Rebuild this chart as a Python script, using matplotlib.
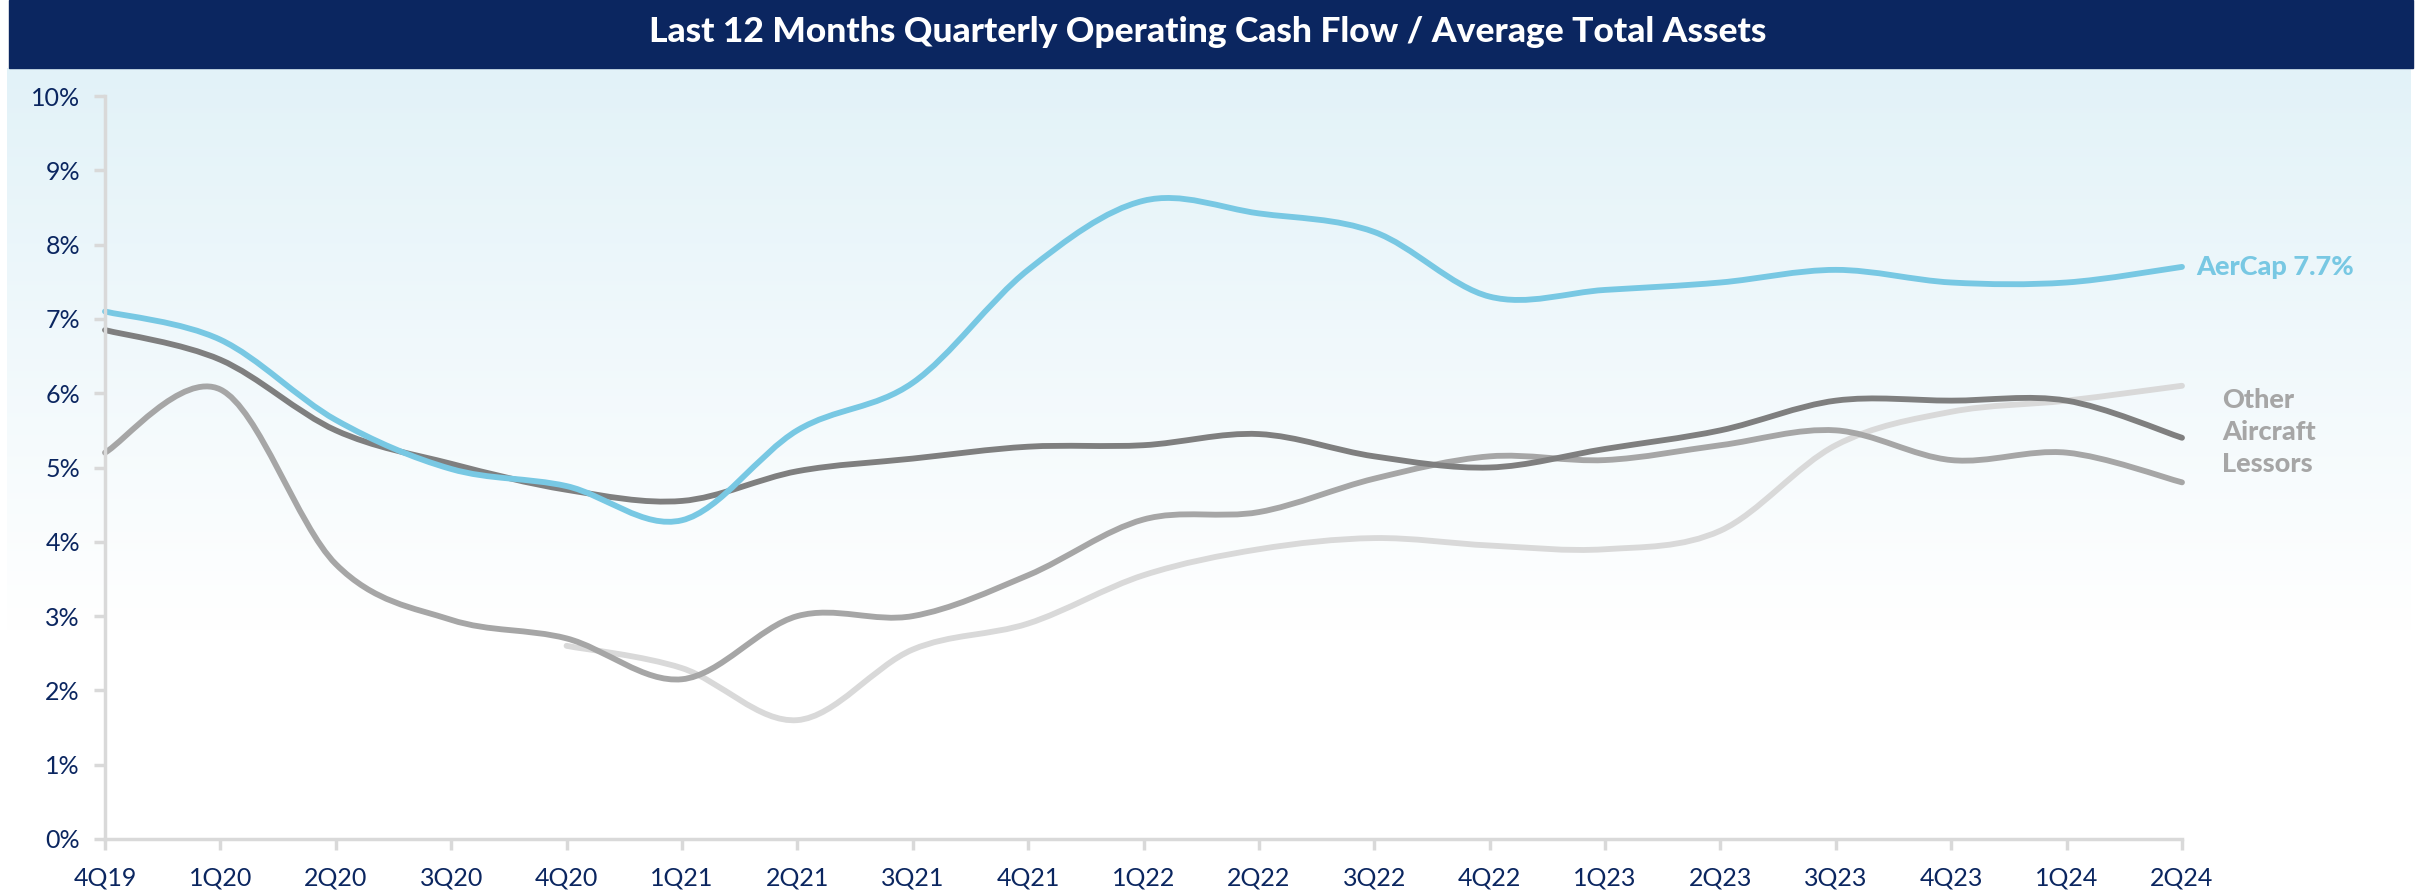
import numpy as np
import matplotlib
matplotlib.use("Agg")
import matplotlib.pyplot as plt
from matplotlib.path import Path
from matplotlib.patches import PathPatch, Rectangle
from matplotlib.colors import LinearSegmentedColormap

plt.rcParams['font.family'] = ['Lato', 'DejaVu Sans']

# quarters on the x axis
quarters = ["4Q19", "1Q20", "2Q20", "3Q20", "4Q20", "1Q21", "2Q21", "3Q21", "4Q21",
            "1Q22", "2Q22", "3Q22", "4Q22", "1Q23", "2Q23", "3Q23", "4Q23", "1Q24", "2Q24"]

# values in %
aercap = [7.1, 6.72, 5.64, 4.98, 4.75, 4.29, 5.5, 6.14, 7.66,
          8.59, 8.42, 8.17, 7.3, 7.39, 7.49, 7.66, 7.49, 7.49, 7.7]
lessor_a = [6.85, 6.45, 5.5, 5.05, 4.7, 4.55, 4.95, 5.12, 5.28,
            5.3, 5.45, 5.15, 5.0, 5.25, 5.5, 5.9, 5.9, 5.9, 5.4]
lessor_b = [5.2, 6.05, 3.7, 2.95, 2.7, 2.15, 3.0, 3.0, 3.55,
            4.3, 4.4, 4.85, 5.15, 5.1, 5.3, 5.5, 5.1, 5.2, 4.8]
# this one starts at 4Q20
lessor_c = [2.6, 2.3, 1.6, 2.55, 2.9, 3.55, 3.9, 4.05, 3.95,
            3.9, 4.15, 5.3, 5.75, 5.9, 6.1]

NAVY = "#0b2660"
BLUE = "#78c8e3"


def smooth_path(xs, ys):
    # catmull-rom style bezier through the points (like excel smoothed lines)
    xs = np.asarray(xs, float)
    ys = np.asarray(ys, float)
    pts = np.column_stack([xs, ys])
    verts = [pts[0]]
    codes = [Path.MOVETO]
    n = len(pts)
    for i in range(n - 1):
        p0 = pts[i - 1] if i > 0 else pts[i]
        p1 = pts[i]
        p2 = pts[i + 1]
        p3 = pts[i + 2] if i + 2 < n else pts[i + 1]
        c1 = p1 + (p2 - p0) / 6.0
        c2 = p2 - (p3 - p1) / 6.0
        verts += [c1, c2, p2]
        codes += [Path.CURVE4] * 3
    return Path(verts, codes)


fig = plt.figure(figsize=(24.15, 8.93), dpi=100)
W, H = 2415, 893

# gradient background
bg = fig.add_axes([7 / W, 0, (2411 - 7) / W, 1 - 68 / H], zorder=0)
grad = np.linspace(0, 1, 400).reshape(-1, 1)
cmap = LinearSegmentedColormap.from_list("bg", [(0, "#e2f2f8"), (0.68, "#ffffff"), (1, "#ffffff")])
bg.imshow(grad, aspect="auto", cmap=cmap, extent=[0, 1, 1, 0])
bg.axis("off")

# title bar
fig.patches.append(Rectangle((9 / W, 1 - 68 / H), (2413 - 9) / W, 68 / H,
                             transform=fig.transFigure, color=NAVY, zorder=1))
fig.text(0.5, 1 - 32 / H, "Last 12 Months Quarterly Operating Cash Flow / Average Total Assets",
         ha="center", va="center", color="white", fontsize=25.5, fontweight="black", zorder=2)

left, right = 105 / W, 2182 / W
bottom, top = 1 - 839 / H, 1 - 96 / H
ax = fig.add_axes([left, bottom, right - left, top - bottom], zorder=2)
ax.patch.set_alpha(0)

x = np.arange(len(quarters))
series = [
    (lessor_c, x[4:], "#d9d9d9"),
    (lessor_b, x, "#a6a6a6"),
    (lessor_a, x, "#7f7f7f"),
    (aercap, x, BLUE),
]
for vals, xs, col in series:
    patch = PathPatch(smooth_path(xs, vals), facecolor="none", edgecolor=col,
                      lw=4.2, capstyle="round", joinstyle="round", clip_on=False)
    ax.add_patch(patch)

ax.set_xlim(0, 18)
ax.set_ylim(0, 10)
ax.set_xticks(x)
ax.set_xticklabels(quarters)
ax.set_yticks(np.arange(0, 11))
ax.set_yticklabels([f"{v}%" for v in range(11)])
for s in ["top", "right"]:
    ax.spines[s].set_visible(False)
for s in ["left", "bottom"]:
    ax.spines[s].set_color("#d9d9d9")
    ax.spines[s].set_linewidth(2.5)
ax.tick_params(axis="both", colors="#d9d9d9", width=2.5, length=8,
               labelcolor=NAVY, labelsize=18)
ax.tick_params(axis="y", pad=10)
ax.tick_params(axis="x", pad=12)

ax.text(18.12, aercap[-1], "AerCap 7.7%", color=BLUE, fontsize=19.5, fontweight="black",
        ha="left", va="center")
ax.text(18.35, 5.48, "Other\nAircraft\nLessors", color="#a6a6a6", fontsize=19.5,
        fontweight="black", ha="left", va="center", linespacing=1.4)

fig.savefig("out.png", dpi=100)
